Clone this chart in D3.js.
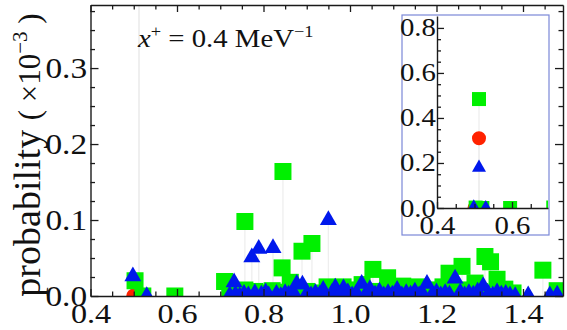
<!DOCTYPE html>
<html><head><meta charset="utf-8">
<script src="https://cdn.jsdelivr.net/npm/d3@7"></script>
<style>
body{margin:0;background:#fff}
svg{display:block}
text{font-family:"Liberation Serif","Times New Roman",serif;fill:#111}
</style>
</head><body>
<script>
// values in units of 10^-3
const redX=[0.500,0.512];
const redY=[0.000,3.10];

const greenX=[0.512,0.503,0.521,0.595,0.710,0.722,0.757,0.757,0.780,0.800,0.820,0.835,0.843,0.845,0.862,0.870,0.889,0.900,0.912,0.920,0.947,0.970,0.984,1.000,1.010,1.028,1.053,1.070,1.087,1.100,1.122,1.140,1.160,1.180,1.200,1.215,1.229,1.240,1.259,1.270,1.289,1.300,1.312,1.325,1.340,1.358,1.365,1.377,1.446,1.479];
const greenY=[4.84,0.020,0.000,0.000,0.019,0.004,0.098,0.008,0.006,0.004,0.007,0.005,0.037,0.164,0.018,0.008,0.059,0.006,0.069,0.004,0.012,0.007,0.012,0.005,0.008,0.015,0.035,0.006,0.024,0.005,0.013,0.007,0.012,0.008,0.005,0.012,0.030,0.006,0.039,0.008,0.017,0.006,0.052,0.045,0.022,0.009,0.003,0.004,0.034,0.007];

const blueX=[0.498,0.512,0.530,0.722,0.732,0.735,0.745,0.755,0.765,0.773,0.780,0.789,0.795,0.805,0.812,0.822,0.830,0.840,0.850,0.858,0.868,0.877,0.890,0.900,0.910,0.920,0.930,0.938,0.950,0.958,0.966,0.975,0.985,0.995,1.005,1.015,1.027,1.037,1.046,1.058,1.068,1.078,1.088,1.098,1.109,1.120,1.130,1.140,1.150,1.160,1.168,1.178,1.190,1.200,1.210,1.220,1.230,1.243,1.255,1.265,1.275,1.285,1.295,1.308,1.320,1.330,1.340,1.350,1.360,1.370,1.382,1.412,1.462,1.479];
const blueY=[0.026,1.79,0.000,0.001,0.018,0.002,0.000,0.003,0.001,0.051,0.004,0.062,0.002,0.005,0.001,0.063,0.003,0.000,0.004,0.002,0.006,0.016,0.015,0.003,0.001,0.004,0.002,0.008,0.100,0.004,0.011,0.002,0.010,0.005,0.001,0.004,0.016,0.003,0.009,0.002,0.006,0.001,0.004,0.002,0.008,0.001,0.004,0.002,0.006,0.001,0.003,0.016,0.002,0.005,0.001,0.004,0.002,0.023,0.005,0.001,0.004,0.002,0.006,0.013,0.003,0.001,0.005,0.002,0.003,0.001,0.000,0.001,0.001,0.002];

const xTicks=[0.4,0.6,0.8,1.0,1.2,1.4];
const yTicks=[0.0,0.1,0.2,0.3];
const insetXTicks=[0.4,0.6];
const insetYTicks=[0.0,0.2,0.4,0.6,0.8];

const W=567,H=330;
const svg=d3.select("body").append("svg").attr("width",W).attr("height",H);

const C={red:"#ff2200",green:"#00f000",blue:"#0018ec",stem:"#eeeeee",axis:"#1a1a1a"};
const SX=1.15;

const L=90.5,R=563,T=5,B=296;
const x=d3.scaleLinear().domain([0.4,1.4925]).range([L,R]);
const y=d3.scaleLinear().domain([0,0.383]).range([B,T]);

const defs=svg.append("defs");
defs.append("clipPath").attr("id","clipMain").append("rect").attr("x",L).attr("y",T).attr("width",R-L).attr("height",B-T);

function series(X,Y){return X.map((v,i)=>({x:v,y:Y[i]}));}
const red=series(redX,redY),green=series(greenX,greenY),blue=series(blueX,blueY);

function drawPoints(g,xs,ys,scaleV,sz){
  const all=[...red,...green,...blue];
  g.selectAll("line.stem").data(all).join("line").attr("class","stem")
    .attr("x1",d=>xs(d.x)).attr("x2",d=>xs(d.x))
    .attr("y1",ys(0)).attr("y2",d=>ys(d.y*scaleV))
    .attr("stroke",C.stem).attr("stroke-width",1.3);
  const sets=[[red,d3.symbolCircle,sz.c,C.red],[green,d3.symbolSquare,sz.s,C.green],[blue,d3.symbolTriangle,sz.t,C.blue]];
  sets.forEach(([data,type,size,col],k)=>{
    g.selectAll("path.s"+k).data(data).join("path").attr("class","s"+k)
      .attr("d",d3.symbol().type(type).size(size))
      .attr("transform",d=>`translate(${xs(d.x)},${ys(d.y*scaleV)})`)
      .attr("fill",col);
  });
}

const gm=svg.append("g").attr("clip-path","url(#clipMain)");
drawPoints(gm,x,y,1,{c:177,s:289,t:125});

function styleAxis(g){
  g.selectAll("path.domain").attr("stroke",C.axis).attr("stroke-width",1.4);
  g.selectAll(".tick line").attr("stroke",C.axis).attr("stroke-width",1.3);
}
const xMinor=d3.range(0.45,1.49,0.05).filter(v=>Math.abs(v*5-Math.round(v*5))>0.01);
const yMinor=d3.range(0.025,0.38,0.025).filter(v=>Math.abs(v*10-Math.round(v*10))>0.01);

function frame(){
  const gb=svg.append("g").attr("transform",`translate(0,${B})`)
    .call(d3.axisBottom(x).tickValues(xTicks).tickSizeInner(-7).tickSizeOuter(0).tickPadding(7).tickFormat(d3.format(".1f")));
  gb.selectAll("text").attr("font-size",28).attr("transform",`scale(${SX},1)`);
  const gbm=svg.append("g").attr("transform",`translate(0,${B})`)
    .call(d3.axisBottom(x).tickValues(xMinor).tickSizeInner(-4.5).tickSizeOuter(0).tickFormat(""));
  gbm.select("path.domain").remove();
  const gt=svg.append("g").attr("transform",`translate(0,${T})`)
    .call(d3.axisTop(x).tickValues(xTicks).tickSizeInner(-7).tickSizeOuter(0).tickFormat(""));
  const gtm=svg.append("g").attr("transform",`translate(0,${T})`)
    .call(d3.axisTop(x).tickValues(xMinor).tickSizeInner(-4.5).tickSizeOuter(0).tickFormat(""));
  gtm.select("path.domain").remove();
  const gl=svg.append("g").attr("transform",`translate(${L},0)`)
    .call(d3.axisLeft(y).tickValues(yTicks).tickSizeInner(-8).tickSizeOuter(0).tickPadding(3).tickFormat(d3.format(".1f")));
  gl.selectAll("text").attr("font-size",29).attr("transform",`scale(${SX},1)`);
  const glm=svg.append("g").attr("transform",`translate(${L},0)`)
    .call(d3.axisLeft(y).tickValues(yMinor).tickSizeInner(-4.5).tickSizeOuter(0).tickFormat(""));
  glm.select("path.domain").remove();
  const gr=svg.append("g").attr("transform",`translate(${R},0)`)
    .call(d3.axisRight(y).tickValues(yTicks).tickSizeInner(-8).tickSizeOuter(0).tickFormat(""));
  const grm=svg.append("g").attr("transform",`translate(${R},0)`)
    .call(d3.axisRight(y).tickValues(yMinor).tickSizeInner(-4.5).tickSizeOuter(0).tickFormat(""));
  grm.select("path.domain").remove();
  [gb,gbm,gt,gtm,gl,glm,gr,grm].forEach(styleAxis);
  svg.selectAll("g.tick text").attr("fill","#111").attr("font-family",'"Liberation Serif","Times New Roman",serif');
}
frame();

// annotation
const ann=svg.append("text").attr("transform",`translate(138,47) scale(1.15,1)`).attr("font-size",25);
ann.append("tspan").attr("font-style","italic").text("x");
ann.append("tspan").attr("font-size",16).attr("dy",-10).text("+");
ann.append("tspan").attr("dy",10).text(" = 0.4 MeV");
ann.append("tspan").attr("font-size",16).attr("dy",-10).text("−1");

// y label
const yl=svg.append("text").attr("transform","translate(40,155) rotate(-90)").attr("text-anchor","middle").attr("font-size",38);
yl.append("tspan").text("probability ");
yl.append("tspan").attr("font-size",31).text("( ×10");
yl.append("tspan").attr("font-size",21).attr("dy",-13).text("−3");
yl.append("tspan").attr("font-size",31).attr("dy",13).text(" )");

// inset
const IL=437,IR=548,IT=16,IB=208;
const ix=d3.scaleLinear().domain([0.4,0.696]).range([IL,IR]);
const iy=d3.scaleLinear().domain([0,0.853]).range([IB,IT]);
svg.append("rect").attr("x",402).attr("y",15).attr("width",147).attr("height",220)
  .attr("fill","#fff").attr("stroke","#7b88d8").attr("stroke-width",1.2);
defs.append("clipPath").attr("id","clipIn").append("rect").attr("x",IL).attr("y",IT).attr("width",IR-IL).attr("height",IB-IT);
const gi=svg.append("g").attr("clip-path","url(#clipIn)");
drawPoints(gi,ix,iy,0.1,{c:154,s:196,t:85});

const ixMinor=d3.range(0.45,0.70,0.05).filter(v=>Math.abs(v*5-Math.round(v*5))>0.01);
const iyMinor=d3.range(0.05,0.85,0.05).filter(v=>Math.abs(v*5-Math.round(v*5))>0.01);
const ib=svg.append("g").attr("transform",`translate(0,${IB})`)
  .call(d3.axisBottom(ix).tickValues(insetXTicks).tickSizeInner(-6).tickSizeOuter(0).tickPadding(8).tickFormat(d3.format(".1f")));
ib.selectAll("text").attr("font-size",25).attr("transform",`scale(${SX},1)`);
const ibm=svg.append("g").attr("transform",`translate(0,${IB})`)
  .call(d3.axisBottom(ix).tickValues(ixMinor).tickSizeInner(-4).tickSizeOuter(0).tickFormat(""));
ibm.select("path.domain").remove();
const il=svg.append("g").attr("transform",`translate(${IL},0)`)
  .call(d3.axisLeft(iy).tickValues(insetYTicks).tickSizeInner(-7).tickSizeOuter(0).tickPadding(1).tickFormat(d3.format(".1f")));
il.selectAll("text").attr("font-size",25).attr("transform",`scale(${SX},1)`);
const ilm=svg.append("g").attr("transform",`translate(${IL},0)`)
  .call(d3.axisLeft(iy).tickValues(iyMinor).tickSizeInner(-4).tickSizeOuter(0).tickFormat(""));
ilm.select("path.domain").remove();
[ib,ibm,il,ilm].forEach(styleAxis);
svg.selectAll("g.tick text").attr("fill","#111").attr("font-family",'"Liberation Serif","Times New Roman",serif');
</script>
</body></html>
